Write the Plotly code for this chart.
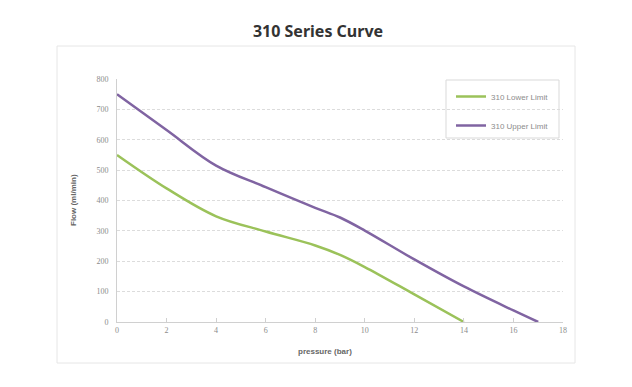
import plotly.graph_objects as go

pressure_lower = [0, 2, 4, 6, 8, 9, 10, 12, 14]
flow_lower = [550, 440, 348, 298, 252, 221, 181, 91, 0]
pressure_upper = [0, 2, 4, 6, 8, 9, 10, 12, 14, 16, 17]
flow_upper = [750, 632, 515, 444, 376, 344, 301, 206, 117, 38, 0]

x_ticks = [0, 2, 4, 6, 8, 10, 12, 14, 16, 18]
y_ticks = [0, 100, 200, 300, 400, 500, 600, 700, 800]

OFF = 8  # page body margin
W, H = 632 - OFF, 387 - OFF
L, R, T, B = 117 - OFF, 563 - OFF, 79 - OFF, 322 - OFF
pw, ph = R - L, B - T

def px(xp):
    return (xp - OFF - L) / pw

def py(yp):
    return (B - (yp - OFF)) / ph

fig = go.Figure()
fig.add_trace(go.Scatter(x=pressure_lower, y=flow_lower, mode="lines",
                         name="310 Lower Limit", legendgroup="a",
                         line=dict(color="#9BC25A", width=2.5, shape="spline", smoothing=1.0)))
fig.add_trace(go.Scatter(x=pressure_upper, y=flow_upper, mode="lines",
                         name="310 Upper Limit", legendgroup="b",
                         line=dict(color="#8064A2", width=2.5, shape="spline", smoothing=1.0)))

tickfont = dict(family="Liberation Serif", size=8, color="#8c8c8c")
fig.update_layout(
    width=W, height=H,
    margin=dict(l=L, r=W - R, t=T, b=H - B),
    paper_bgcolor="white", plot_bgcolor="white",
    title=dict(text="<b>310 Series Curve</b>", x=px(318), xref="paper", xanchor="center",
               y=1 - (31 - OFF) / H, yref="container", yanchor="middle",
               font=dict(family="Noto Sans", size=16, color="#333333")),
    showlegend=True,
    legend=dict(x=px(451), y=py(82), xanchor="left", yanchor="top",
                bgcolor="rgba(0,0,0,0)", borderwidth=0,
                tracegroupgap=10,
                font=dict(family="Liberation Sans", size=8, color="#8c8c8c")),
    xaxis=dict(range=[0, 18], tickvals=x_ticks, showgrid=False, zeroline=False,
               showline=True, linecolor="#d0d0d0", linewidth=1,
               ticks="inside", ticklen=4, tickcolor="#d0d0d0",
               tickfont=tickfont, fixedrange=True),
    yaxis=dict(range=[0, 800], tickvals=y_ticks, showgrid=True, gridcolor="#dcdcdc",
               griddash="3px,2px", gridwidth=1, zeroline=False,
               showline=True, linecolor="#d0d0d0", linewidth=1,
               ticks="", ticklabelstandoff=6,
               tickfont=tickfont, fixedrange=True),
    shapes=[
        dict(type="rect", xref="paper", yref="paper",
             x0=px(57), x1=px(575), y0=py(363), y1=py(46),
             line=dict(color="#e6e6e6", width=1), layer="below"),
        dict(type="rect", xref="paper", yref="paper",
             x0=px(446), x1=px(559), y0=py(138), y1=py(80),
             line=dict(color="#d9d9d9", width=1), fillcolor="white", layer="below"),
    ],
    annotations=[
        dict(text="<b>Flow (ml/min)</b>", xref="paper", yref="paper",
             x=px(73), y=py(200), textangle=-90, showarrow=False,
             xanchor="center", yanchor="middle",
             font=dict(family="Liberation Sans", size=8, color="#666666")),
        dict(text="<b>pressure (bar)</b>", xref="paper", yref="paper",
             x=px(325), y=py(351), showarrow=False,
             xanchor="center", yanchor="middle",
             font=dict(family="Liberation Sans", size=8, color="#666666")),
    ],
)

fig.write_html("out.html")
